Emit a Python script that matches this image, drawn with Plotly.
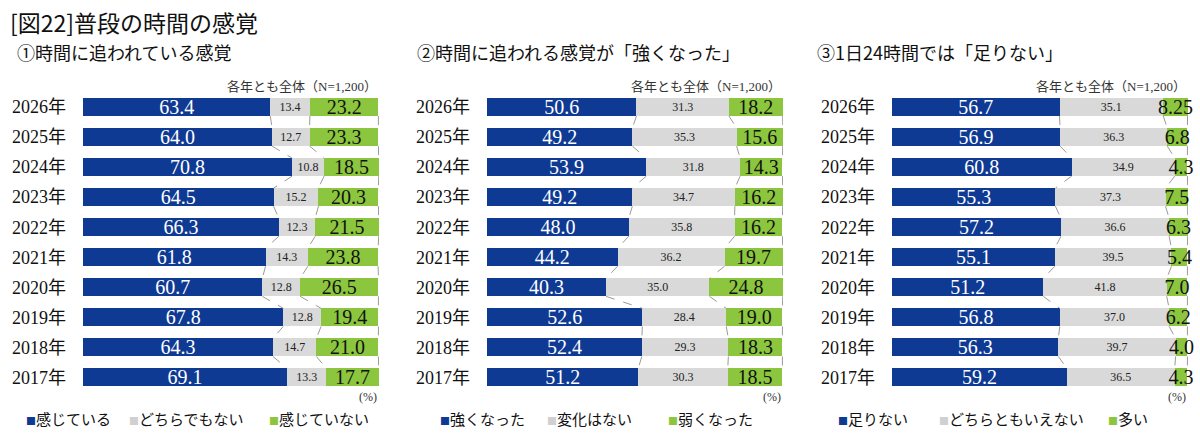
import plotly.graph_objects as go

years = ["2026年", "2025年", "2024年", "2023年", "2022年", "2021年", "2020年", "2019年", "2018年", "2017年"]

p1_titles = "①時間に追われている感覚"
p1_names = ["感じている", "どちらでもない", "感じていない"]
p1_blue = [63.4, 64.0, 70.8, 64.5, 66.3, 61.8, 60.7, 67.8, 64.3, 69.1]
p1_gray = [13.4, 12.7, 10.8, 15.2, 12.3, 14.3, 12.8, 12.8, 14.7, 13.3]
p1_green = [23.2, 23.3, 18.5, 20.3, 21.5, 23.8, 26.5, 19.4, 21.0, 17.7]

p2_titles = "②時間に追われる感覚が「強くなった」"
p2_names = ["強くなった", "変化はない", "弱くなった"]
p2_blue = [50.6, 49.2, 53.9, 49.2, 48.0, 44.2, 40.3, 52.6, 52.4, 51.2]
p2_gray = [31.3, 35.3, 31.8, 34.7, 35.8, 36.2, 35.0, 28.4, 29.3, 30.3]
p2_green = [18.2, 15.6, 14.3, 16.2, 16.2, 19.7, 24.8, 19.0, 18.3, 18.5]

p3_titles = "③1日24時間では「足りない」"
p3_names = ["足りない", "どちらともいえない", "多い"]
p3_blue = [56.7, 56.9, 60.8, 55.3, 57.2, 55.1, 51.2, 56.8, 56.3, 59.2]
p3_gray = [35.1, 36.3, 34.9, 37.3, 36.6, 39.5, 41.8, 37.0, 39.7, 36.5]
p3_green = [8.25, 6.8, 4.3, 7.5, 6.3, 5.4, 7.0, 6.2, 4.0, 4.3]

BLUE = "#0F3A93"
GRAY = "#D9D9D9"
GREEN = "#8CC63F"
SERIF = "Liberation Serif, Noto Sans CJK JP"
SANS = "Noto Sans CJK JP"

panels = [
    (p1_titles, p1_names, p1_blue, p1_gray, p1_green),
    (p2_titles, p2_names, p2_blue, p2_gray, p2_green),
    (p3_titles, p3_names, p3_blue, p3_gray, p3_green),
]

W, H = 1200, 434
xdomains = [(83 / W, 379 / W), (487 / W, 783 / W), (892 / W, 1188 / W)]
ydomain = (1 - 392.5 / H, 1 - 92 / H)
title_x = [15, 415, 815]
legend_x = [[24, 127, 267], [438, 545, 666], [836, 937, 1106]]

fig = go.Figure()
ypos = list(range(len(years)))
annotations = []

for k, (ttl, names, blue, gray, green) in enumerate(panels):
    xa = "x" if k == 0 else f"x{k+1}"
    ya = "y" if k == 0 else f"y{k+1}"
    series = [
        (blue, BLUE, dict(color="white", size=20, family=SERIF)),
        (gray, GRAY, dict(color="#222222", size=12, family=SERIF)),
        (green, GREEN, dict(color="#111111", size=20, family=SERIF)),
    ]
    for (vals, col, tf), nm in zip(series, names):
        fig.add_trace(go.Bar(
            y=ypos, x=vals, orientation="h", name=nm,
            marker=dict(color=col, line=dict(width=0)),
            width=0.6,
            text=[str(v) for v in vals],
            textposition="inside", insidetextanchor="middle",
            constraintext="none", textangle=0,
            textfont=tf, cliponaxis=False,
            xaxis=xa, yaxis=ya, showlegend=False, hoverinfo="skip",
        ))
    # dashed connector lines between consecutive bars
    c1 = blue
    c2 = [b + g for b, g in zip(blue, gray)]
    c3 = [b + g + r for b, g, r in zip(blue, gray, green)]
    for cum in (c1, c2, c3):
        xs, ys = [], []
        for i in range(len(years) - 1):
            xs += [cum[i], cum[i + 1], None]
            ys += [i + 0.3, i + 1 - 0.3, None]
        fig.add_trace(go.Scatter(
            x=xs, y=ys, mode="lines",
            line=dict(color="#9A9A9A", width=1, dash="dash"),
            xaxis=xa, yaxis=ya, showlegend=False, hoverinfo="skip",
            cliponaxis=False,
        ))
    xkey = "xaxis" if k == 0 else f"xaxis{k+1}"
    ykey = "yaxis" if k == 0 else f"yaxis{k+1}"
    fig.update_layout(**{
        xkey: dict(domain=list(xdomains[k]), range=[0, 100.2], visible=False,
                   anchor=ya, fixedrange=True),
        ykey: dict(domain=list(ydomain), range=[9.5, -0.5], anchor=xa,
                   tickvals=ypos, ticktext=years, showgrid=False,
                   zeroline=False, showline=False, ticks="",
                   ticklabelstandoff=16,
                   tickfont=dict(family=SERIF, size=18, color="#111111")),
    })
    # panel subtitle
    annotations.append(dict(x=title_x[k] / W, y=1 - 52 / H, xref="paper", yref="paper",
                            text=ttl, showarrow=False, xanchor="left", yanchor="middle",
                            font=dict(family=SANS, size=18, color="#111111")))
    # N note
    annotations.append(dict(x=xdomains[k][1], y=1 - 87 / H, xref="paper", yref="paper",
                            text="各年とも全体（N=1,200）", showarrow=False,
                            xanchor="right", yanchor="middle",
                            font=dict(family=SERIF, size=13, color="#333333")))
    # percent unit
    annotations.append(dict(x=xdomains[k][1], y=1 - 397 / H, xref="paper", yref="paper",
                            text="(%)", showarrow=False, xanchor="right", yanchor="middle",
                            font=dict(family=SERIF, size=12, color="#333333")))
    # legend
    for nm, col, lx in zip(names, [BLUE, "#D0D0D0", GREEN], legend_x[k]):
        annotations.append(dict(
            x=lx / W, y=1 - 418 / H, xref="paper", yref="paper",
            text=f"<span style='color:{col};font-size:10px'>■</span>{nm}",
            showarrow=False, xanchor="left", yanchor="middle",
            font=dict(family=SANS, size=15, color="#111111")))

annotations.append(dict(x=8 / W, y=1 - 22 / H, xref="paper", yref="paper",
                        text="[図22]普段の時間の感覚", showarrow=False,
                        xanchor="left", yanchor="middle",
                        font=dict(family=SANS, size=23, color="#111111")))

fig.update_layout(
    barmode="stack",
    width=W, height=H,
    margin=dict(l=0, r=0, t=0, b=0),
    paper_bgcolor="white", plot_bgcolor="white",
    annotations=annotations,
    showlegend=False,
)

fig.write_html("out.html")
